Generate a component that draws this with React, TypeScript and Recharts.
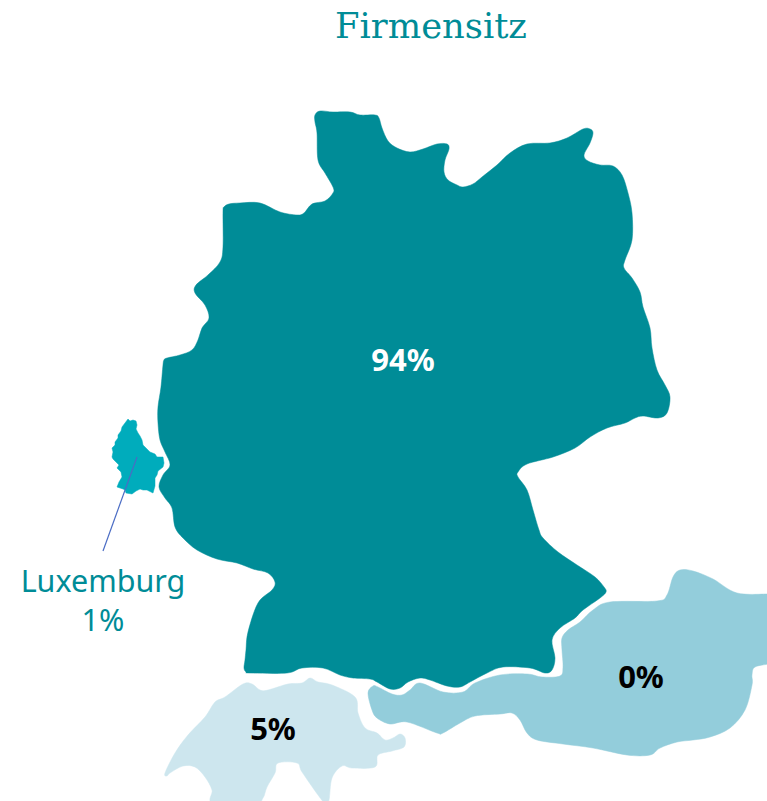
import { LabelList, Scatter, ScatterChart, XAxis, YAxis } from "recharts";

type Pt = [number, number];

const germany: Pt[] = [
  [315, 115], [320, 111], [333, 112], [350, 112], [360, 115], [375, 115], [379, 118], [382, 128], [388, 141], [397, 148],
  [410, 152], [423, 149], [437, 144], [447, 144], [449, 149], [445, 160], [444, 172], [448, 180], [457, 185], [463, 187],
  [473, 184], [482, 177], [497, 165], [510, 153], [527, 144], [550, 143], [567, 138], [583, 129], [590, 129],
  [593, 133], [590, 143], [584, 155], [588, 161], [600, 165], [613, 166], [622, 175], [628, 193], [632, 213], [632, 240],
  [625, 260], [624, 268], [632, 278], [640, 292], [643, 307], [650, 328], [652, 348], [657, 370], [665, 385], [670, 397],
  [667, 413], [658, 418], [643, 416], [635, 418], [625, 423], [607, 428], [590, 437], [575, 448], [553, 457], [527, 464],
  [518, 472], [518, 477], [527, 490], [533, 510], [539, 530], [543, 538], [558, 552], [577, 565], [595, 577], [604, 587], [606, 592],
  [600, 598], [583, 610], [575, 618], [560, 628], [552, 640], [555, 658], [552, 670], [545, 673], [530, 668], [503, 667],
  [487, 673], [470, 682], [460, 687], [447, 686], [430, 680], [420, 678], [408, 682], [400, 688], [390, 689], [377, 682],
  [370, 679], [353, 678], [340, 675], [323, 668], [302, 668], [287, 673], [250, 673], [246, 672], [244, 668], [245, 660], [246, 650], [248, 632],
  [258, 603], [272, 590], [275, 582], [268, 573], [253, 569], [237, 563], [217, 559], [197, 550], [183, 538], [175, 527],
  [172, 508], [165, 498], [159, 487], [163, 475], [170, 465], [165, 452], [160, 440], [158, 423], [158, 407], [161, 387],
  [163, 365], [164, 360], [167, 358], [180, 355], [192, 350], [198, 340], [202, 328], [209, 318], [205, 305], [195, 293], [196, 285],
  [208, 275], [220, 262], [223, 247], [223, 212], [224, 207], [229, 204], [240, 203], [260, 203], [280, 212], [297, 215], [304, 213], [312, 204],
  [325, 201], [333, 193], [333, 187], [325, 173], [318, 160], [317, 133], [315, 122],
];

const austria: Pt[] = [
  [368, 693], [373, 686], [378, 687], [392, 694], [402, 695], [410, 690], [420, 683], [443, 692], [463, 692], [475, 683],
  [500, 675], [527, 674], [542, 677], [560, 676], [563, 667], [562, 650], [562, 638], [568, 630], [580, 622], [593, 610],
  [610, 602], [657, 601], [667, 595], [673, 577], [680, 570], [693, 571], [713, 579], [737, 593], [770, 594], [780, 594],
  [780, 664], [770, 664], [755, 667], [752, 675], [752, 685], [745, 710], [730, 728], [710, 737], [693, 740], [677, 742],
  [660, 748], [650, 755], [627, 755], [593, 748], [563, 744], [537, 740], [527, 733], [520, 720], [512, 713], [500, 714],
  [475, 716], [460, 723], [443, 733], [437, 733], [407, 722], [390, 724], [377, 718], [372, 710],
];

const switzerland: Pt[] = [
  [165, 773], [175, 753], [188, 735], [205, 717], [215, 702], [225, 697], [243, 684], [252, 684], [260, 690], [268, 690],
  [288, 684], [302, 683], [310, 678], [318, 682], [332, 685], [355, 697], [358, 713], [365, 728], [377, 733], [385, 740],
  [393, 738], [400, 734], [405, 738], [404, 747], [392, 751], [378, 755], [375, 767], [352, 768], [342, 766], [332, 778],
  [329, 800], [325, 803], [318, 795], [302, 772], [297, 763], [278, 763], [275, 773], [267, 787], [263, 798], [255, 803],
  [213, 803], [212, 790], [205, 777], [195, 767], [183, 766], [170, 773], [167, 776],
];

const luxembourg: Pt[] = [
  [125, 423], [128, 419], [130, 421], [133, 420], [136, 421], [137, 425], [136, 429], [138, 433], [140, 436], [142, 440],
  [143, 445], [147, 449], [150, 452], [155, 454], [157, 457], [163, 457], [164, 463], [163, 467], [158, 471], [157, 475],
  [155, 478], [155, 486], [153, 493], [147, 490], [143, 490], [140, 489], [136, 491], [132, 494], [126, 493], [125, 490],
  [123, 489], [117, 487], [119, 482], [122, 477], [121, 472], [117, 468], [119, 465], [113, 459], [112, 457], [113, 452],
  [112, 448], [115, 445], [115, 442], [118, 438], [118, 435], [121, 431], [122, 427],
];

const leader: Pt[] = [[137, 457], [103, 551]];

const shareLabels = ["94%", "0%", "5%"];
const shareX = [403, 641, 273];
const shareY = [359, 676, 728];
const shareColors = ["#ffffff", "#000000", "#000000"];

const toRows = (pts: Pt[]) => pts.map(([x, y]) => ({ x, y }));
const shareRows = shareLabels.map((text, i) => ({ x: shareX[i], y: shareY[i], text }));

const noMark = () => <g />;

// closed Catmull-Rom, goes through every traced outline point
const roundClosed = (ctx: any) => {
  let pts: Pt[] = [];
  return {
    areaStart() {},
    areaEnd() {},
    lineStart() {
      pts = [];
    },
    point(x: number, y: number) {
      pts.push([x, y]);
    },
    lineEnd() {
      const n = pts.length;
      ctx.moveTo(pts[0][0], pts[0][1]);
      for (let i = 0; i < n; i++) {
        const p0 = pts[(i + n - 1) % n];
        const p1 = pts[i];
        const p2 = pts[(i + 1) % n];
        const p3 = pts[(i + 2) % n];
        ctx.bezierCurveTo(
          p1[0] + (p2[0] - p0[0]) / 6,
          p1[1] + (p2[1] - p0[1]) / 6,
          p2[0] - (p3[0] - p1[0]) / 6,
          p2[1] - (p3[1] - p1[1]) / 6,
          p2[0],
          p2[1]
        );
      }
      ctx.closePath();
    },
  };
};

export default function App() {
  const region = (name: string, pts: Pt[], color: string, joint: any) => (
    <Scatter
      key={name}
      name={name}
      data={toRows(pts)}
      isAnimationActive={false}
      shape={noMark}
      line={{ fill: color, stroke: color, strokeWidth: 0.5, strokeLinejoin: "round" }}
      lineJointType={joint}
      fill={color}
    />
  );

  return (
    <div style={{ position: "absolute", left: 0, top: 0, width: 767, height: 801, overflow: "hidden", background: "#fff" }}>
      <ScatterChart width={767} height={801} margin={{ top: 0, right: 0, bottom: 0, left: 0 }}>
        <XAxis type="number" dataKey="x" domain={[0, 767]} hide allowDataOverflow />
        <YAxis type="number" dataKey="y" domain={[0, 801]} reversed hide allowDataOverflow />
        {region("Österreich", austria, "#93cddb", roundClosed)}
        {region("Schweiz", switzerland, "#cde6ee", roundClosed)}
        {region("Luxemburg", luxembourg, "#00acbc", "linearClosed")}
        {region("Deutschland", germany, "#008c97", roundClosed)}
        <Scatter
          name="leader"
          data={toRows(leader)}
          isAnimationActive={false}
          shape={noMark}
          line={{ stroke: "#4a6cc4", strokeWidth: 1.2 }}
          fill="#4a6cc4"
        />
        <Scatter name="shares" data={shareRows} isAnimationActive={false} shape={noMark} fill="#000">
          <LabelList
            dataKey="text"
            position="center"
            content={(p: any) => (
              <text
                x={p.x + p.width / 2}
                y={p.y + p.height / 2}
                textAnchor="middle"
                dominantBaseline="central"
                fontFamily="'Noto Sans'"
                fontWeight={700}
                fontSize={31}
                fill={shareColors[p.index]}
              >
                {p.value}
              </text>
            )}
          />
        </Scatter>
        <Scatter
          name="lux"
          data={[
            { x: 103, y: 581, text: "Luxemburg" },
            { x: 103, y: 620, text: "1%" },
          ]}
          isAnimationActive={false}
          shape={noMark}
          fill="#008c97"
        >
          <LabelList dataKey="text" position="center" fontFamily="'Noto Sans'" fontSize={30.5} fill="#008c97" />
        </Scatter>
        <Scatter name="title" data={[{ x: 431, y: 25, text: "Firmensitz" }]} isAnimationActive={false} shape={noMark} fill="#008c97">
          <LabelList dataKey="text" position="center" fontFamily="'DejaVu Serif'" fontSize={35.3} fill="#008c97" />
        </Scatter>
      </ScatterChart>
    </div>
  );
}
